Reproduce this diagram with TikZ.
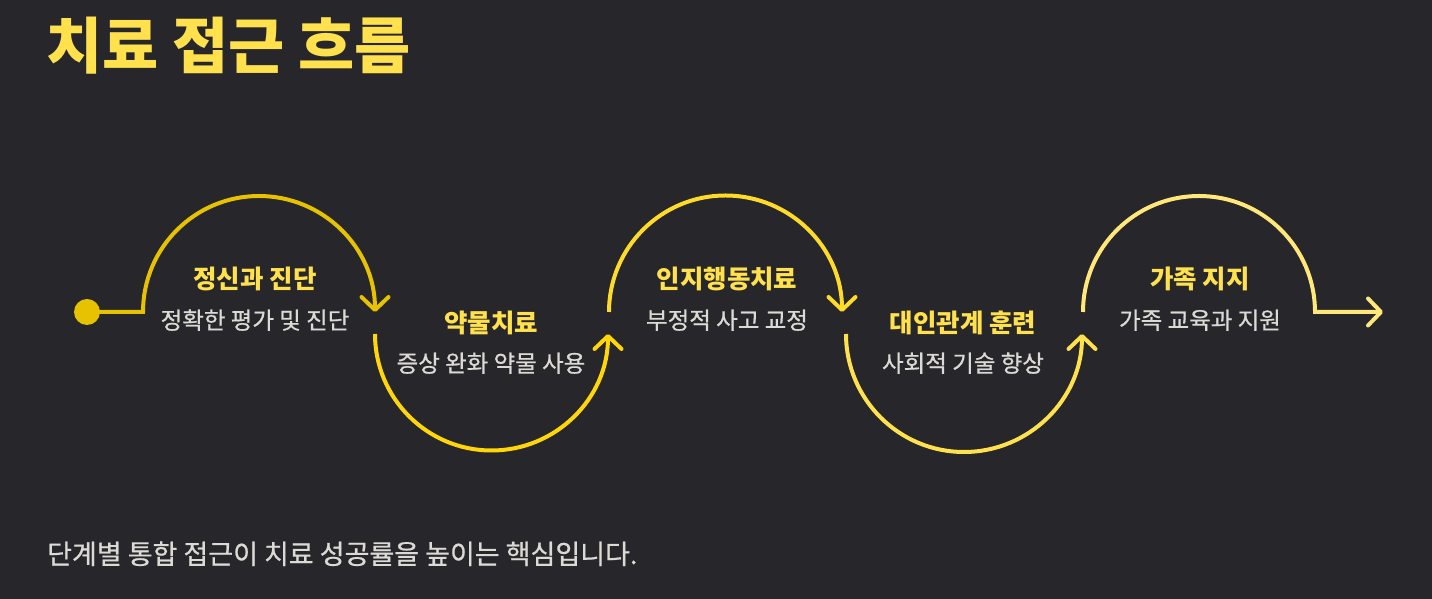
\documentclass[tikz,border=0pt]{standalone}
\usepackage{fontspec}
\setmainfont{Noto Sans CJK KR}
\newfontfamily\krmed[FakeBold=0.7]{Noto Sans CJK KR}
\usetikzlibrary{arrows.meta}
\definecolor{bg}{HTML}{26262B}
\definecolor{ttl}{HTML}{FFE04D}
\definecolor{sub}{HTML}{DCDAD5}
\definecolor{cA}{HTML}{E6C200}
\definecolor{cB}{HTML}{FFD60A}
\definecolor{cC}{HTML}{FFDB29}
\definecolor{cD}{HTML}{FFE14D}
\definecolor{cE}{HTML}{FFE77A}
\tikzset{
  flow/.style={line width=4pt, line cap=butt, -{Straight Barb[length=13pt,width=27pt,line cap=round,line join=round]}},
  headt/.style={font=\fontsize{25.5}{25.5}\selectfont\bfseries, text=ttl, inner sep=0pt, anchor=base},
  subt/.style={font=\fontsize{23.5}{23.5}\selectfont\krmed, text=sub, inner sep=0pt, anchor=base},
}
\begin{document}
\begin{tikzpicture}[x=1pt,y=1pt]
\fill[bg] (0,0) rectangle (1432,599);
\useasboundingbox (0,0) rectangle (1432,599);
% title
\node[font=\fontsize{61}{61}\selectfont\bfseries, text=ttl, inner sep=0pt, anchor=base west] (title) at (46,530) {치료 접근 흐름};
% coordinates
\coordinate (s0) at (87,287);
\coordinate (a1) at (143,287);
\coordinate (b1) at (375,265);
\coordinate (a3) at (609,287);
\coordinate (b4) at (846,265);
\coordinate (a5) at (1083,287);
\coordinate (fin) at (1383,287);
% start dot
\fill[cA] (s0) circle[radius=13];
\node[inner sep=0pt, minimum size=26pt, circle] (start) at (s0) {};
% arcs
\draw[flow, cA] (start.center) -- (a1) arc[start angle=180, end angle=0, radius=116];
\draw[flow, cB] (b1) arc[start angle=180, end angle=360, radius=116.5];
\draw[flow, cC] (a3) arc[start angle=180, end angle=0, radius=116.5];
\draw[flow, cD] (b4) arc[start angle=180, end angle=360, radius=118];
\draw[flow, cE] (a5) arc[start angle=180, end angle=0, radius=116] -- (fin);
% labels
\node[headt] (h1) at (255,310) {정신과 진단};
\node[subt] (d1) at (255,270) {정확한 평가 및 진단};
\node[headt] (h2) at (491,266) {약물치료};
\node[subt] (d2) at (491,227) {증상 완화 약물 사용};
\node[headt] (h3) at (727,310) {인지행동치료};
\node[subt] (d3) at (727,270) {부정적 사고 교정};
\node[headt] (h4) at (963,266) {대인관계 훈련};
\node[subt] (d4) at (963,227) {사회적 기술 향상};
\node[headt] (h5) at (1200,310) {가족 지지};
\node[subt] (d5) at (1200,270) {가족 교육과 지원};
% footer
\node[font=\fontsize{27}{27}\selectfont\krmed, text=sub, inner sep=0pt, anchor=base west] (foot) at (47,35) {단계별 통합 접근이 치료 성공률을 높이는 핵심입니다.};
\end{tikzpicture}
\end{document}
